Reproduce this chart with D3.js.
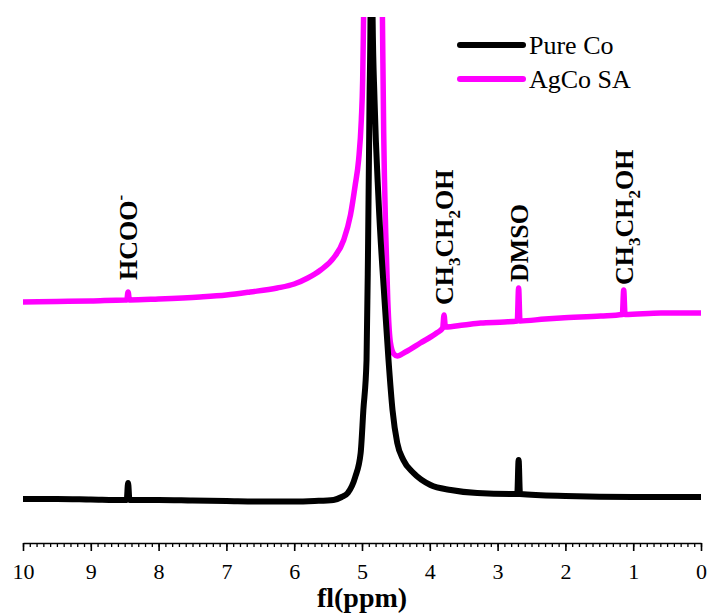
<!DOCTYPE html>
<html lang="en">
<head>
    <meta charset="UTF-8">
    <title>1H NMR - Pure Co vs AgCo SA</title>
    <script src="https://d3js.org/d3.v7.min.js"></script>
    <style>
        body { margin: 0; background: #fff; }
        svg text { font-family: "Liberation Serif", "Times New Roman", serif !important; fill: #000; }
        .tick text { font-size: 22px; }
        .axis-label { font-size: 28px; font-weight: bold; }
        .peak-label { font-size: 26px; font-weight: bold; }
        .legend text { font-size: 26px; }
    </style>
</head>
<body>
    <svg id="nmr" width="710" height="614"></svg>

    <script>
        // series names + colours
        const seriesNames = ["Pure Co", "AgCo SA"];
        const seriesColors = ["#000000", "#ff00ff"];

        // Pure Co spectrum: chemical shift (ppm) and intensity (a.u.)
        const pureCoPpm = [10.0, 9.5, 9.0, 8.5, 8.47, 8.45, 8.43, 8.0, 7.5, 7.0, 6.5, 6.0, 5.7, 5.42, 5.3, 5.21, 5.10, 5.02, 4.98,
            4.933, 4.911, 4.889, 4.874, 4.86, 4.845, 4.815, 4.756, 4.668, 4.609, 4.55, 4.48, 4.39, 4.24, 3.99, 3.69, 3.3,
            2.75, 2.71, 2.69, 2.67, 2.0, 1.0, 0.0];
        const pureCoInt = [0.5, 0.5, 0.25, 0, 0, 8.5, 0, 0, -0.25, -0.5, -0.75, -0.75, -0.5, 0, 1.5, 3.5, 11.5, 23.5, 45,
            70, 125, 200, 245, 420, 245, 200, 150, 100, 70, 45, 28.5, 20, 13.5, 7.5, 5, 3.5,
            3, 3, 20, 3, 2, 1.5, 1.5];

        // AgCo SA spectrum
        const agCoPpm = [10.0, 9.5, 9.0, 8.5, 8.47, 8.45, 8.43, 8.0, 7.39, 7.0, 6.65, 6.25, 6.0, 5.8, 5.61, 5.42, 5.27, 5.17, 5.10,
            5.05, 5.01, 4.99, 4.975, 4.84, 4.70, 4.68, 4.65, 4.62, 4.58, 4.53, 4.48, 4.36, 4.14, 3.90, 3.81, 3.79, 3.77,
            3.5, 3.25, 2.9, 2.71, 2.69, 2.67, 2.3, 2.07, 1.48, 1.16, 1.14, 1.12, 0.59, 0.0];
        const agCoInt = [99, 99.25, 99.5, 100, 100, 104, 100, 100.5, 101.5, 102.5, 104, 106, 108, 111, 115, 121, 130, 142.5, 157.5,
            170, 190, 210, 245, 450, 245, 183.5, 133.5, 100, 78.5, 73, 72, 74, 78.5, 83.5, 86, 92.5, 86.5,
            87.5, 88.5, 89, 89.5, 106, 89.5, 90.5, 91, 92, 92.75, 105, 92.75, 93.5, 93.5];

        // peak assignments
        const peakNames = ["HCOO^-", "CH_3CH_2OH", "DMSO", "CH_3CH_2OH"];
        const peakPpm = [8.45, 3.79, 2.69, 1.14];
        const peakLabelInt = [110, 97.5, 109, 107.5];

        const xTicks = [10, 9, 8, 7, 6, 5, 4, 3, 2, 1, 0];
        const xTitle = "fl(ppm)";

        const svg = d3.select("#nmr");
        const axisY = 543;
        const serif = '"Liberation Serif", "Times New Roman", serif';

        const x = d3.scaleLinear().domain([10, 0]).range([23, 701]);
        const y = d3.scaleLinear().domain([0, 100]).range([500, 300]);

        svg.append("defs").append("clipPath").attr("id", "plotClip")
            .append("rect").attr("x", 0).attr("y", 17).attr("width", 710).attr("height", axisY - 17);

        const series = [
            { name: seriesNames[0], color: seriesColors[0], width: 6, pts: pureCoPpm.map((p, i) => [p, pureCoInt[i]]) },
            { name: seriesNames[1], color: seriesColors[1], width: 5.5, pts: agCoPpm.map((p, i) => [p, agCoInt[i]]) }
        ];

        const line = d3.line().x(d => x(d[0])).y(d => y(d[1])).curve(d3.curveMonotoneX);

        const plot = svg.append("g").attr("clip-path", "url(#plotClip)");
        // draw magenta first, black on top
        plot.selectAll("path").data(series.slice().reverse()).enter().append("path")
            .attr("fill", "none")
            .attr("stroke", d => d.color)
            .attr("stroke-width", d => d.width)
            .attr("stroke-linejoin", "round")
            .attr("d", d => line(d.pts));

        // x axis: minor ticks every 0.1, major every 1
        svg.append("g").attr("transform", `translate(0,${axisY})`)
            .call(d3.axisBottom(x).tickValues(d3.range(0, 101).map(i => i / 10)).tickSize(4).tickSizeOuter(0).tickFormat(""))
            .call(g => g.selectAll("line").attr("stroke-width", 1.3))
            .call(g => g.select(".domain").attr("stroke-width", 1.6));
        svg.append("g").attr("transform", `translate(0,${axisY})`)
            .call(d3.axisBottom(x).tickValues(xTicks).tickSize(8).tickSizeOuter(0).tickPadding(12).tickFormat(d3.format("d")))
            .attr("font-family", serif).attr("font-size", 22)
            .call(g => g.select(".domain").remove())
            .call(g => g.selectAll("line").attr("stroke-width", 1.6))
            .call(g => g.selectAll("text").style("font-family", serif).style("font-size", "22px"));

        svg.append("text").attr("class", "axis-label")
            .attr("x", (x.range()[0] + x.range()[1]) / 2).attr("y", 607)
            .attr("text-anchor", "middle").text(xTitle);

        // rotated peak labels with sub/superscripts
        function addParts(textSel, label) {
            const parts = label.match(/(\^.|_.|[^\^_]+)/g);
            let shift = 0;
            parts.forEach(p => {
                let txt = p, small = false, newShift = 0;
                if (p[0] === "_") { txt = p[1]; small = true; newShift = 7; }
                if (p[0] === "^") { txt = p[1]; small = true; newShift = -11; }
                const t = textSel.append("tspan").text(txt).attr("dy", newShift - shift);
                shift = newShift;
                if (small) t.attr("font-size", 17);
            });
        }

        peakNames.forEach((name, i) => {
            const t = svg.append("text").attr("class", "peak-label")
                .attr("transform", `translate(${x(peakPpm[i]) + 9},${y(peakLabelInt[i])}) rotate(-90)`);
            addParts(t, name);
        });

        // legend
        const legend = svg.append("g").attr("class", "legend");
        series.forEach((s, i) => {
            const ly = 45 + i * 34;
            legend.append("line").attr("x1", 460).attr("x2", 523).attr("y1", ly).attr("y2", ly)
                .attr("stroke", s.color).attr("stroke-width", 6).attr("stroke-linecap", "round");
            legend.append("text").attr("x", 529).attr("y", ly + 9).text(s.name);
        });
    </script>
</body>
</html>
